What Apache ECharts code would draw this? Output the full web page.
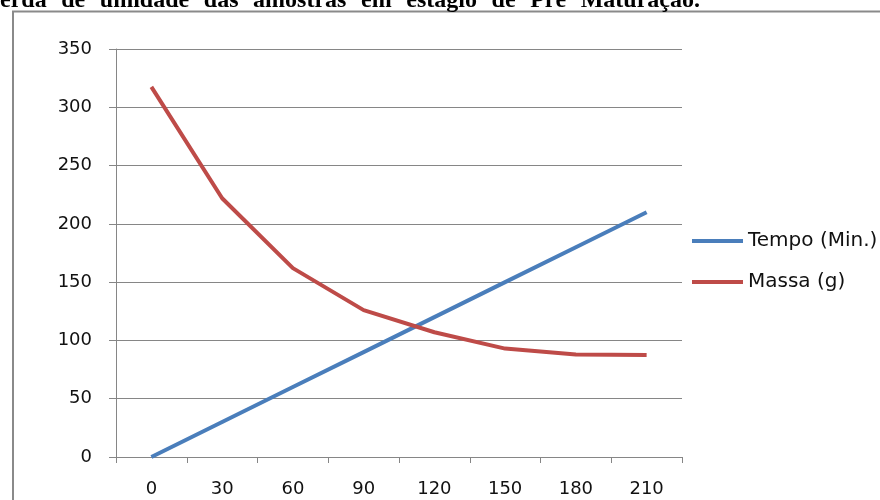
<!DOCTYPE html>
<html>
<head>
<meta charset="utf-8">
<script src="https://cdn.jsdelivr.net/npm/echarts@6/dist/echarts.min.js"></script>
<style>
  html, body { margin: 0; padding: 0; background: #fff; }
  #chart { width: 880px; height: 500px; }
</style>
</head>
<body>
<div id="chart"></div>
<script>
// ---- data ----
const categories = ['0', '30', '60', '90', '120', '150', '180', '210'];
const tempoValues = [0, 30, 60, 90, 120, 150, 180, 210];
const massaValues = [317.5, 222, 162, 126, 107, 93, 88, 87.5];
const seriesNames = ['Tempo (Min.)', 'Massa (g)'];
const titleText = 'Perda de umidade das amostras em estágio de Pré Maturação.';

// ---- justified title (as in the source document) ----
const titleFont = 'bold 24px "Liberation Serif", "Times New Roman", serif';
const words = titleText.split(' ');
const cv = document.createElement('canvas').getContext('2d');
cv.font = titleFont;
const widths = words.map(w => cv.measureText(w).width);
const startX = -cv.measureText('P').width;
const endX = 700;
const total = widths.reduce((a, b) => a + b, 0);
const gap = (endX - startX - total) / (words.length - 1);
const titleGraphics = [];
let cx = startX;
words.forEach((w, i) => {
  titleGraphics.push({
    type: 'text', x: cx, y: 0.5, silent: true,
    style: { text: w, font: titleFont, fill: '#000', verticalAlign: 'middle', align: 'left' }
  });
  cx += widths[i] + gap;
});

const gridColor = '#868686';
const labelFont = { fontFamily: '"DejaVu Sans", sans-serif', fontSize: 18, color: '#111' };

const chart = echarts.init(document.getElementById('chart'), null, { renderer: 'canvas', width: 880, height: 500 });
chart.setOption({
  animation: false,
  backgroundColor: '#fff',
  graphic: [
    { type: 'rect', silent: true, shape: { x: 13, y: 11.5, width: 900, height: 600 },
      style: { fill: 'none', stroke: '#8a8a8a', lineWidth: 2 } }
  ].concat(titleGraphics),
  grid: { left: 116, right: 198, top: 49, bottom: 43, containLabel: false },
  legend: {
    data: seriesNames.map(n => ({ name: n, icon: 'rect' })),
    orient: 'vertical',
    left: 687, top: 226,
    itemWidth: 51, itemHeight: 4, itemGap: 21,
    textStyle: { fontFamily: '"DejaVu Sans", sans-serif', fontSize: 20, color: '#111' }
  },
  xAxis: {
    type: 'category',
    data: categories,
    boundaryGap: true,
    axisLine: { show: true, lineStyle: { color: gridColor, width: 1 } },
    axisTick: { show: true, length: 6, alignWithLabel: false, lineStyle: { color: gridColor } },
    axisLabel: Object.assign({ margin: 23, interval: 0 }, labelFont),
    splitLine: { show: false }
  },
  yAxis: {
    type: 'value',
    min: 0, max: 350, interval: 50,
    axisLine: { show: true, lineStyle: { color: gridColor, width: 1 } },
    axisTick: { show: true, length: 7, lineStyle: { color: gridColor } },
    axisLabel: Object.assign({ margin: 24 }, labelFont),
    splitLine: { show: true, lineStyle: { color: gridColor, width: 1 } }
  },
  series: [
    { name: seriesNames[0], type: 'line', data: tempoValues, symbol: 'none', smooth: false,
      lineStyle: { color: '#4a7ebb', width: 4 }, itemStyle: { color: '#4a7ebb' } },
    { name: seriesNames[1], type: 'line', data: massaValues, symbol: 'none', smooth: false,
      lineStyle: { color: '#be4b48', width: 4 }, itemStyle: { color: '#be4b48' } }
  ]
});
</script>
</body>
</html>
